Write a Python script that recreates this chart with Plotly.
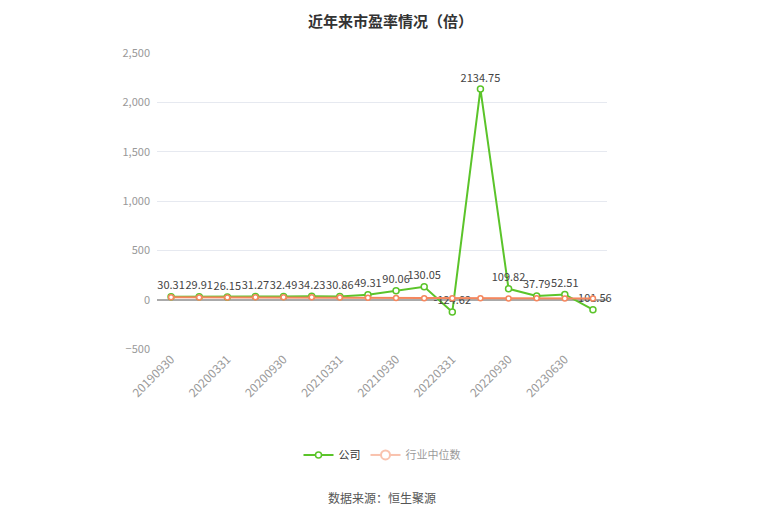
import plotly.graph_objects as go

dates = ['20190930', '20191231', '20200331', '20200630', '20200930', '20201231',
         '20210331', '20210630', '20210930', '20211231', '20220331', '20220630',
         '20220930', '20230331', '20230630', '20230930']
company = [30.31, 29.91, 26.15, 31.27, 32.49, 34.23, 30.86, 49.31, 90.06, 130.05,
           -124.62, 2134.75, 109.82, 37.79, 52.51, -101.56]
industry = [24, 23, 22, 24, 24, 24, 23, 19, 17, 15, 14, 14, 13, 14, 12, 13]
shown_ticks = dates[::2]
yticks = [-500, 0, 500, 1000, 1500, 2000, 2500]

green = '#5bc42a'
orange = '#f5875e'

fig = go.Figure()
fig.add_trace(go.Scatter(
    x=dates, y=company, name='公司', mode='lines+markers+text',
    text=[f'{v:.2f}' for v in company], textposition='top center',
    textfont=dict(size=11, color='#444'), cliponaxis=False,
    line=dict(color=green, width=2),
    marker=dict(symbol='circle', size=6, color='white', line=dict(color=green, width=1.5))))
fig.add_trace(go.Scatter(
    x=dates, y=industry, name='行业中位数', mode='lines+markers',
    line=dict(color=orange, width=2),
    marker=dict(symbol='circle', size=5, color='white', line=dict(color=orange, width=1.5)),
    showlegend=False, hoverinfo='skip'))
# legend entry for the industry series (drawn faded)
fig.add_trace(go.Scatter(
    x=dates, y=industry, name='行业中位数', mode='lines+markers', visible='legendonly',
    line=dict(color=orange, width=2),
    marker=dict(symbol='circle', size=9, color='white', line=dict(color=orange, width=2))))

# small tick marks on the zero line
for d in shown_ticks:
    fig.add_shape(type='line', x0=d, x1=d, y0=0, y1=-45, xref='x', yref='y',
                  line=dict(color='#888', width=1))

fig.update_layout(
    width=765, height=517,
    paper_bgcolor='white', plot_bgcolor='white',
    font=dict(family='Noto Sans CJK SC', color='#666'),
    title=dict(text='<b>近年来市盈率情况（倍）</b>', x=0.5, xanchor='center', y=0.974,
               yanchor='middle', font=dict(size=15, color='#333')),
    margin=dict(l=149, r=166, t=45, b=176),
    legend=dict(orientation='h', x=0.5, xanchor='center', y=-0.358, yanchor='middle',
                font=dict(size=11, color='#333'), itemclick=False, itemdoubleclick=False),
    showlegend=True,
    annotations=[dict(text='数据来源：恒生聚源', x=0.5, xref='paper', y=-0.503, yref='paper',
                      yanchor='middle', showarrow=False, font=dict(size=12, color='#555'))],
)
fig.update_xaxes(type='category', categoryorder='array', categoryarray=dates,
                 range=[-0.5, len(dates) - 0.5],
                 tickmode='array', tickvals=shown_ticks, ticktext=shown_ticks,
                 tickangle=-45, tickfont=dict(size=12, color='#999'),
                 showgrid=False, showline=False, zeroline=False)
fig.update_yaxes(range=[-500, 2500], tickvals=yticks, tickformat=',',
                 tickfont=dict(size=11, color='#999'),
                 showgrid=True, gridcolor='#e6e9f0', gridwidth=1,
                 zeroline=True, zerolinecolor='#aaa', zerolinewidth=2,
                 showline=False, ticks='', ticklabelstandoff=6)

fig.write_html('out.html')
